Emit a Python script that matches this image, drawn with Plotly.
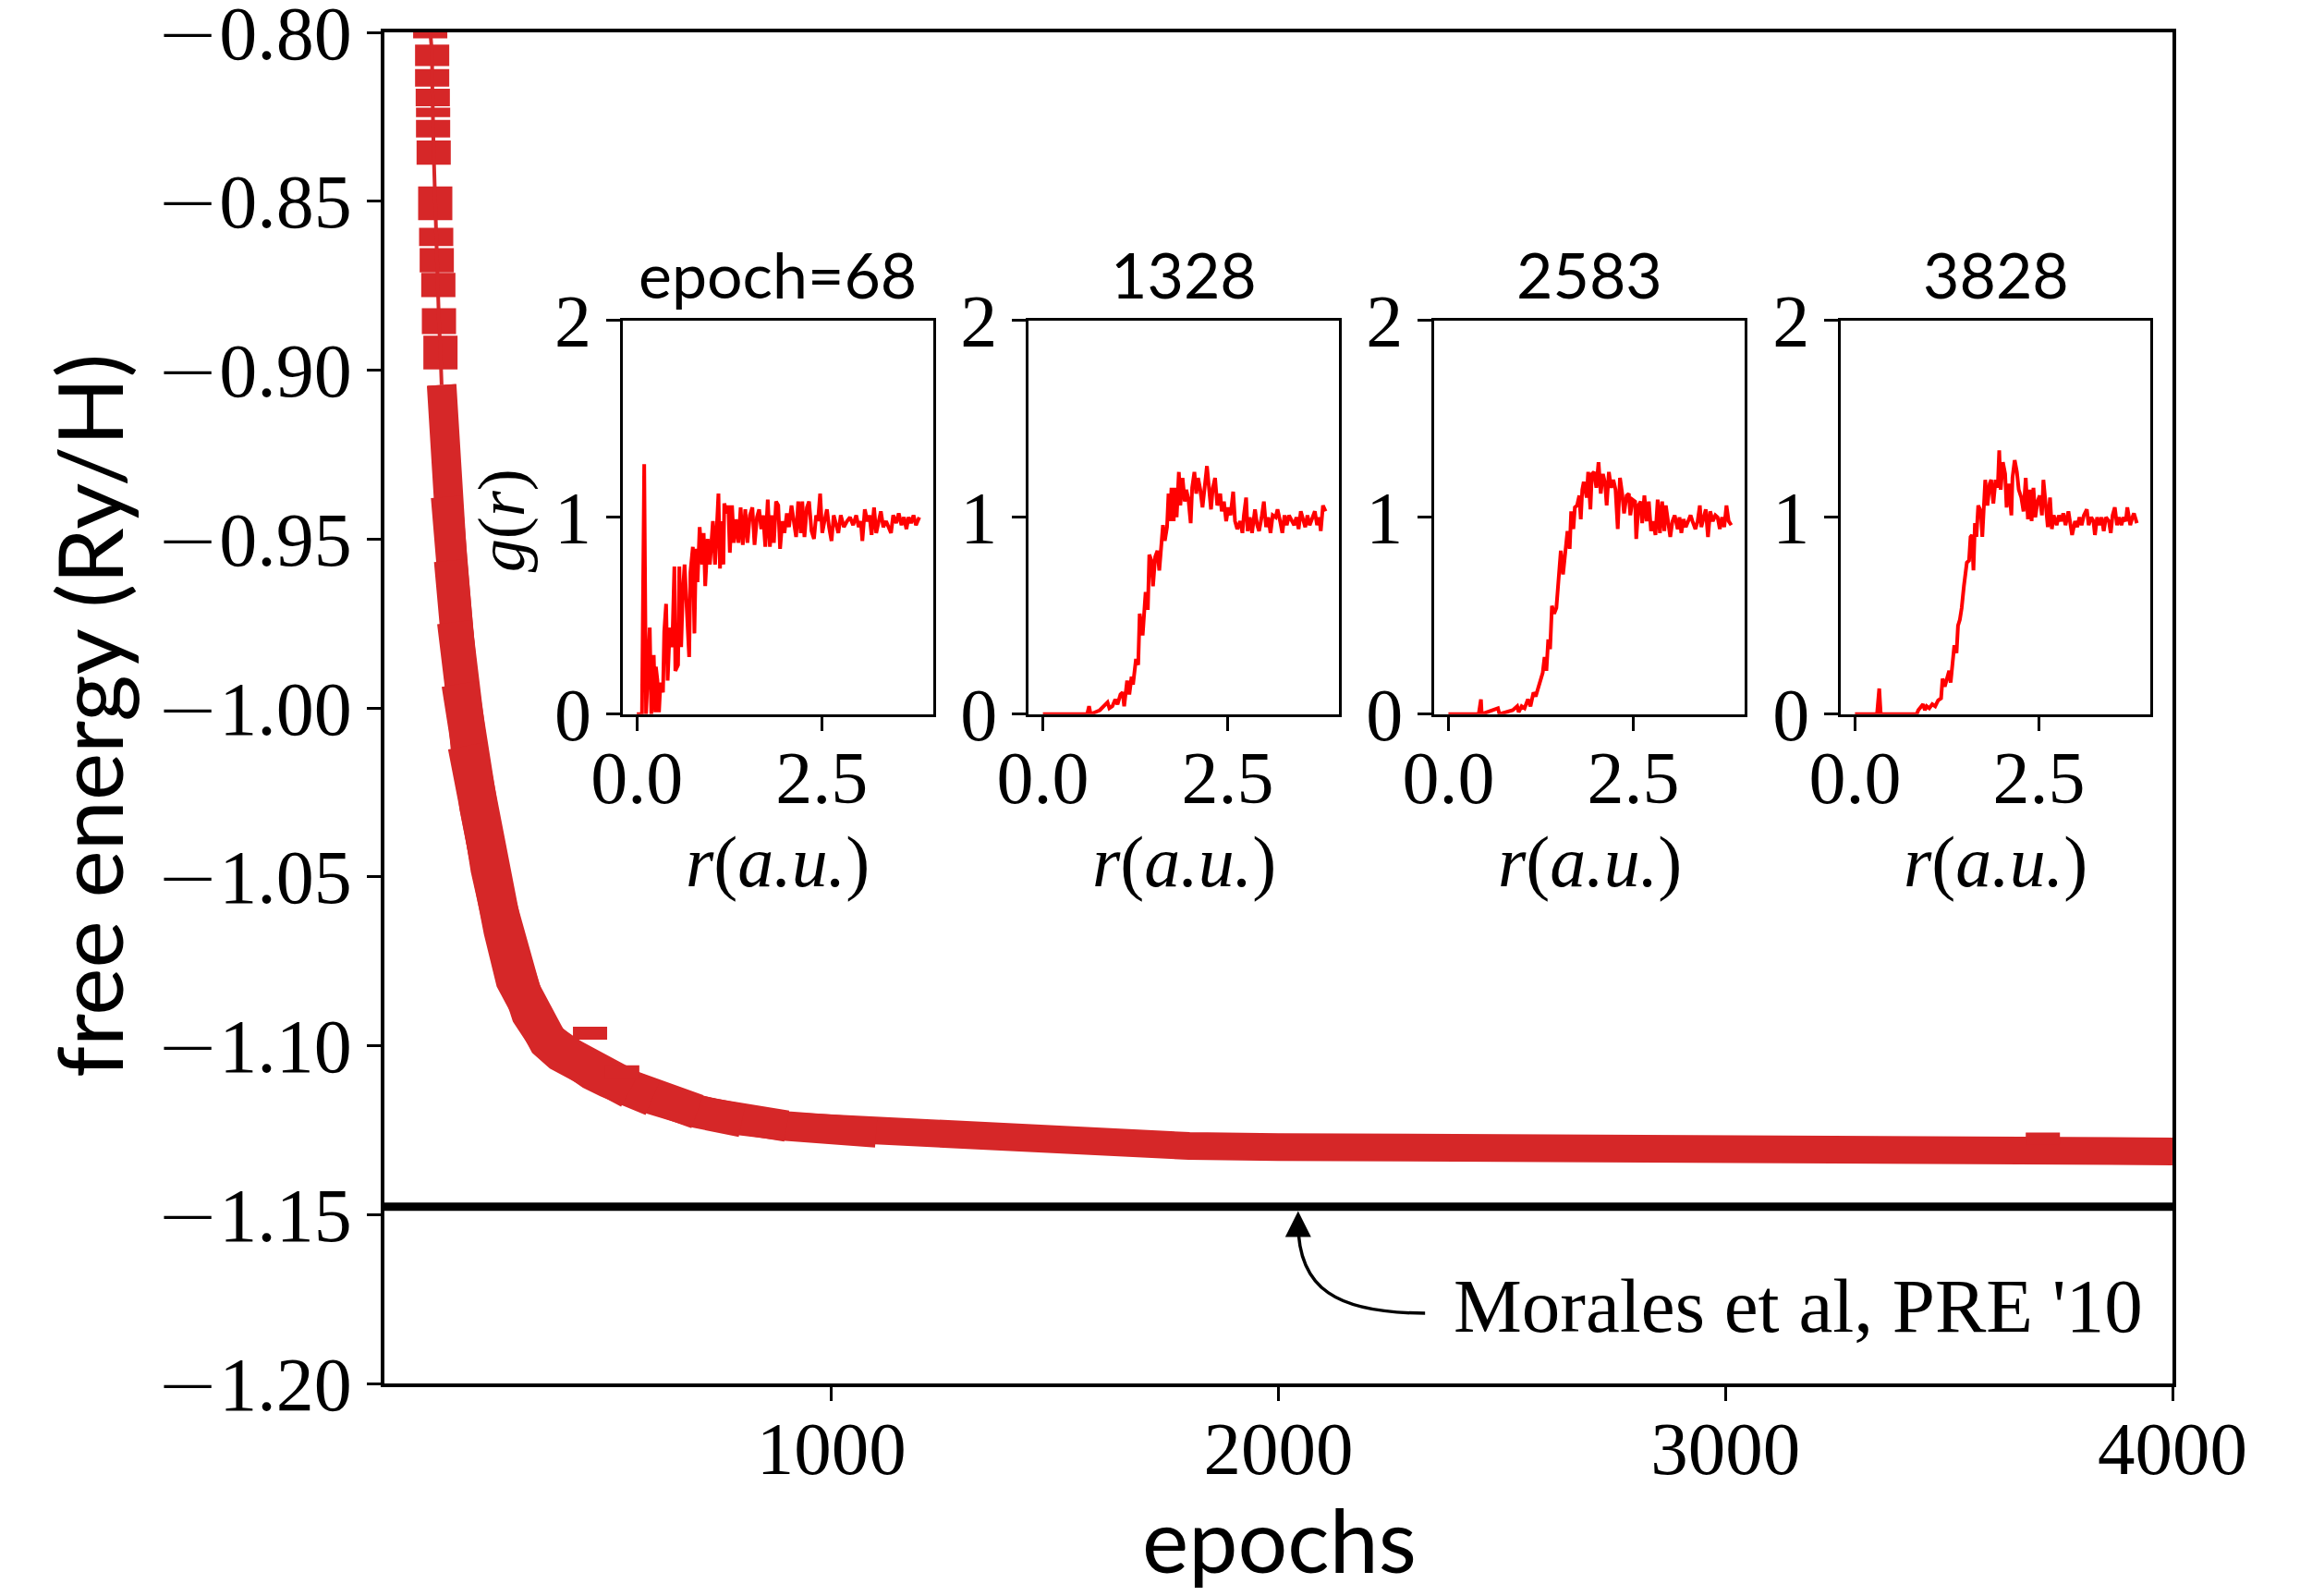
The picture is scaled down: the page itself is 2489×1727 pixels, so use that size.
import plotly.graph_objects as go

# ---------------- main curve data ----------------
# early epochs: individual points drawn with wide error bars (the "blocks")
top_epoch = [102.5, 106.8, 106.8, 108.2, 108.9, 108.9, 110.2, 113.7, 115.8, 117.1, 120.6, 122.0, 125.4, 128.0]
top_energy = [-0.7995, -0.8068, -0.8135, -0.8193, -0.8237, -0.8285, -0.8356, -0.8506, -0.8606,
              -0.8675, -0.8748, -0.8855, -0.8948, -0.9044]
top_err = [0.0023, 0.0032, 0.0026, 0.0026, 0.0014, 0.0026, 0.0036, 0.0050, 0.0027,
           0.0036, 0.0036, 0.0038, 0.0050, 0.0]

# dense part of the training curve (thick band)
band_epoch = [128, 139, 148, 157, 169, 185, 207, 234, 265, 292, 325, 365, 395, 430, 465, 500, 550,
              600, 700, 800, 900, 1000, 1100, 1200, 1300, 1400, 1500, 1600, 1800, 2000, 2200, 2400,
              2600, 2800, 3000, 3200, 3400, 3600, 3800, 4000]
band_energy = [-0.9044, -0.9375, -0.9564, -0.9746, -0.9929, -1.0112, -1.0294, -1.0476, -1.0658,
               -1.0804, -1.0905, -1.0985, -1.1020, -1.1050, -1.1077, -1.1100, -1.1130, -1.1155,
               -1.1195, -1.1222, -1.1238, -1.1245, -1.1258, -1.1268, -1.1278, -1.1285, -1.1290,
               -1.1293, -1.1297, -1.1300, -1.1302, -1.1305, -1.1307, -1.1308, -1.1310, -1.1310,
               -1.1312, -1.1312, -1.1313, -1.1313]
# the band (error bars) is wider around the knee: overlapping layers (start idx, end idx, px)
band_layers = [(0, 40, 30), (0, 23, 32), (1, 21, 34), (2, 20, 36), (3, 19, 38), (4, 18, 40),
               (5, 17, 42)]

# isolated outlier points
out_epoch = [460, 532, 3710]
out_energy = [-1.0963, -1.1078, -1.1275]
out_err = [0.0019, 0.0020, 0.0018]

ref_energy = -1.1477   # Morales et al, PRE '10

energy_ticks = [-1.20, -1.15, -1.10, -1.05, -1.00, -0.95, -0.90, -0.85, -0.80]
epoch_ticks = [1000, 2000, 3000, 4000]

# ---------------- inset g(r) data ----------------
inset_titles = ["epoch=68", "1328", "2583", "3828"]

r1 = [0.0, 0.07, 0.10, 0.125, 0.175, 0.196, 0.229, 0.25, 0.258, 0.279, 0.30, 0.32, 0.354, 0.371,
      0.396, 0.417, 0.446, 0.479, 0.508, 0.521, 0.558, 0.575, 0.60, 0.621, 0.646, 0.675, 0.708,
      0.725, 0.758, 0.779, 0.80, 0.821, 0.85, 0.883, 0.904, 0.925, 0.958, 0.988, 1.029, 1.058,
      1.083, 1.104, 1.125, 1.15, 1.171, 1.183, 1.217, 1.2375, 1.258, 1.2875, 1.3125, 1.342, 1.375,
      1.404, 1.433, 1.467, 1.496, 1.529, 1.5625, 1.592, 1.625, 1.654, 1.683, 1.708, 1.7375, 1.771,
      1.80, 1.829, 1.854, 1.883, 1.9125, 1.9375, 1.967, 1.996, 2.029, 2.058, 2.092, 2.125, 2.154,
      2.183, 2.217, 2.2375, 2.267, 2.30, 2.329, 2.3625, 2.396, 2.425, 2.45, 2.479, 2.508, 2.5375,
      2.571, 2.60, 2.633, 2.6625, 2.696, 2.725, 2.758, 2.80, 2.842, 2.883, 2.925, 2.967, 3.0, 3.029,
      3.05, 3.083, 3.117, 3.146, 3.175, 3.208, 3.2375, 3.271, 3.30, 3.333, 3.371, 3.404, 3.4375,
      3.467, 3.508, 3.542, 3.579, 3.6125, 3.646, 3.675, 3.708, 3.742, 3.775, 3.82]
g1 = [0, 0, 1.27, 0, 0.44, 0, 0.30, 0.01, 0.24, 0.17, 0.01, 0.16, 0.11, 0.42, 0.56, 0.17, 0.44,
      0.34, 0.75, 0.22, 0.25, 0.75, 0.34, 0.61, 0.76, 0.57, 0.29, 0.72, 0.85, 0.41, 0.84, 0.67,
      0.95, 0.76, 0.92, 0.65, 0.89, 0.76, 0.98, 0.76, 1.00, 1.12, 0.74, 0.98, 0.76, 1.07, 1.02,
      1.06, 0.82, 1.06, 0.87, 0.99, 0.87, 1.05, 0.86, 1.04, 0.87, 1.01, 1.05, 0.86, 1.00, 1.04,
      0.94, 1.01, 0.85, 1.09, 0.85, 1.01, 0.87, 1.08, 1.06, 0.84, 0.98, 0.92, 1.02, 0.95, 1.06,
      0.98, 0.90, 1.08, 0.92, 1.08, 0.90, 1.05, 1.08, 0.93, 0.89, 1.01, 0.98, 1.12, 0.92, 0.98,
      1.04, 0.95, 0.88, 1.01, 0.97, 0.92, 1.01, 0.95, 0.98, 1.00, 0.96, 1.01, 0.95, 0.98, 0.88,
      1.04, 0.98, 1.01, 0.91, 1.05, 0.92, 0.98, 1.03, 0.95, 0.98, 0.95, 0.92, 1.01, 0.97, 1.02,
      0.96, 1.00, 0.94, 1.00, 0.97, 1.01, 0.96, 1.00]

r2 = [0.0, 0.60, 0.625, 0.646, 0.77, 0.83, 0.875, 0.90, 0.94, 0.98, 1.01, 1.05, 1.08, 1.10, 1.14,
      1.17, 1.20, 1.22, 1.24, 1.26, 1.29, 1.31, 1.35, 1.37, 1.39, 1.42, 1.44, 1.47, 1.49, 1.52,
      1.55, 1.575, 1.60, 1.625, 1.65, 1.68, 1.70, 1.72, 1.74, 1.77, 1.79, 1.81, 1.84, 1.86, 1.89,
      1.92, 1.94, 1.97, 2.00, 2.02, 2.05, 2.075, 2.10, 2.13, 2.16, 2.19, 2.22, 2.25, 2.275, 2.30,
      2.33, 2.36, 2.40, 2.42, 2.45, 2.48, 2.51, 2.54, 2.575, 2.60, 2.63, 2.67, 2.70, 2.72, 2.75,
      2.77, 2.80, 2.83, 2.87, 2.90, 2.925, 2.96, 2.99, 3.02, 3.05, 3.08, 3.11, 3.15, 3.175, 3.21,
      3.24, 3.27, 3.30, 3.33, 3.37, 3.40, 3.43, 3.46, 3.49, 3.52, 3.55, 3.58, 3.61, 3.65, 3.68,
      3.71, 3.74, 3.76, 3.79, 3.825]
g2 = [0, 0, 0.04, 0, 0.02, 0.04, 0.06, 0.03, 0.04, 0.075, 0.05, 0.10, 0.11, 0.04, 0.17, 0.10,
      0.19, 0.15, 0.21, 0.28, 0.25, 0.51, 0.40, 0.51, 0.62, 0.53, 0.81, 0.78, 0.65, 0.80, 0.83,
      0.73, 0.87, 0.96, 0.88, 0.95, 1.12, 0.98, 1.15, 0.98, 1.15, 1.00, 1.23, 1.06, 1.20, 1.08,
      1.14, 1.09, 0.97, 1.15, 1.23, 1.12, 1.20, 1.14, 1.05, 1.15, 1.26, 1.14, 1.04, 1.15, 1.20,
      1.06, 1.12, 1.03, 1.08, 0.98, 1.05, 1.01, 1.13, 0.98, 0.94, 0.98, 0.92, 1.01, 1.10, 0.93,
      1.00, 0.92, 1.04, 0.96, 0.93, 1.00, 1.08, 0.95, 1.00, 0.92, 1.01, 1.00, 1.04, 0.98, 0.92,
      1.01, 0.96, 1.01, 0.98, 0.96, 1.00, 0.94, 1.03, 0.98, 0.95, 1.01, 0.96, 1.00, 1.03, 0.96,
      1.00, 0.93, 1.06, 1.03]

r3 = [0.0, 0.41, 0.44, 0.45, 0.67, 0.69, 0.87, 0.93, 0.95, 0.99, 1.03, 1.075, 1.11, 1.15, 1.18,
      1.21, 1.24, 1.275, 1.30, 1.325, 1.35, 1.375, 1.40, 1.43, 1.46, 1.49, 1.52, 1.55, 1.58, 1.61,
      1.64, 1.66, 1.69, 1.71, 1.74, 1.77, 1.79, 1.81, 1.83, 1.87, 1.89, 1.92, 1.94, 1.97, 2.00,
      2.03, 2.06, 2.09, 2.12, 2.14, 2.17, 2.20, 2.23, 2.26, 2.29, 2.32, 2.35, 2.375, 2.41, 2.44,
      2.46, 2.49, 2.525, 2.54, 2.57, 2.60, 2.62, 2.65, 2.68, 2.71, 2.74, 2.77, 2.80, 2.83, 2.86,
      2.89, 2.92, 2.94, 2.97, 3.00, 3.03, 3.06, 3.10, 3.125, 3.15, 3.18, 3.21, 3.24, 3.275, 3.30,
      3.34, 3.37, 3.40, 3.42, 3.45, 3.48, 3.51, 3.54, 3.575, 3.61, 3.64, 3.67, 3.70, 3.73, 3.76,
      3.79, 3.825]
g3 = [0, 0, 0.075, 0, 0.03, 0, 0.02, 0.04, 0.01, 0.04, 0.03, 0.075, 0.04, 0.11, 0.09, 0.13, 0.17,
      0.21, 0.29, 0.22, 0.38, 0.33, 0.55, 0.51, 0.54, 0.70, 0.83, 0.71, 0.83, 0.93, 0.84, 1.03,
      0.94, 1.05, 1.06, 1.11, 0.99, 1.14, 1.18, 1.10, 1.23, 1.04, 1.22, 1.23, 1.15, 1.28, 1.12,
      1.22, 1.17, 1.06, 1.23, 1.15, 1.19, 1.14, 0.94, 1.20, 1.12, 1.02, 1.11, 1.12, 1.01, 1.09,
      1.08, 0.89, 1.06, 1.08, 0.97, 1.11, 0.98, 1.08, 0.93, 0.98, 0.91, 1.09, 0.92, 1.08, 0.93,
      1.06, 0.98, 0.90, 0.98, 1.01, 0.94, 1.00, 0.92, 0.99, 0.95, 0.98, 1.01, 0.98, 0.94, 0.98,
      1.06, 0.95, 1.00, 1.04, 0.90, 1.03, 0.98, 1.01, 1.00, 0.94, 1.00, 0.95, 1.06, 0.98, 0.96]

r4 = [0.0, 0.30, 0.33, 0.35, 0.84, 0.86, 0.925, 0.95, 0.975, 1.01, 1.05, 1.09, 1.13, 1.17, 1.19,
      1.22, 1.25, 1.28, 1.30, 1.33, 1.35, 1.38, 1.40, 1.425, 1.45, 1.48, 1.50, 1.52, 1.55, 1.57,
      1.59, 1.61, 1.63, 1.65, 1.675, 1.71, 1.73, 1.75, 1.77, 1.80, 1.83, 1.85, 1.88, 1.91, 1.94,
      1.96, 1.98, 2.01, 2.04, 2.06, 2.09, 2.125, 2.14, 2.17, 2.20, 2.225, 2.26, 2.29, 2.32, 2.35,
      2.375, 2.40, 2.425, 2.45, 2.48, 2.51, 2.54, 2.56, 2.59, 2.62, 2.65, 2.675, 2.70, 2.74, 2.77,
      2.80, 2.83, 2.86, 2.90, 2.925, 2.95, 2.99, 3.02, 3.05, 3.08, 3.11, 3.15, 3.175, 3.21, 3.24,
      3.26, 3.29, 3.32, 3.35, 3.38, 3.41, 3.45, 3.475, 3.50, 3.53, 3.56, 3.59, 3.62, 3.65, 3.68,
      3.70, 3.74, 3.77, 3.79, 3.83]
g4 = [0, 0, 0.13, 0, 0, 0.02, 0.05, 0.02, 0.04, 0.03, 0.05, 0.04, 0.07, 0.08, 0.18, 0.14, 0.18,
      0.22, 0.16, 0.26, 0.35, 0.31, 0.45, 0.48, 0.54, 0.65, 0.70, 0.77, 0.78, 0.90, 0.91, 0.73,
      0.97, 0.90, 1.06, 1.03, 0.90, 1.11, 1.19, 1.06, 1.17, 1.19, 1.07, 1.19, 1.15, 1.34, 1.14,
      1.28, 1.22, 1.05, 1.17, 1.01, 1.20, 1.29, 1.23, 1.14, 1.10, 1.03, 1.20, 0.99, 1.14, 0.98,
      1.15, 1.00, 1.08, 1.11, 1.01, 1.19, 1.04, 0.95, 1.10, 0.94, 1.01, 0.96, 1.01, 0.98, 1.02,
      0.96, 1.03, 0.98, 0.91, 0.98, 0.95, 1.00, 0.96, 1.01, 1.04, 0.96, 1.00, 0.98, 0.91, 1.00,
      0.96, 1.00, 0.93, 1.00, 0.98, 0.92, 1.01, 1.05, 0.96, 1.00, 0.96, 1.00, 0.98, 1.05, 0.96,
      1.00, 1.02, 0.97]

inset_r = [r1, r2, r3, r4]
inset_g = [g1, g2, g3, g4]

# ---------------- styling / layout ----------------
# page body has an 8px margin, so the figure is made 8px smaller to fit the window
W, H = 2481, 1719
ML, MR, MT, MB = 408, 138, 27, 230
RED_MAIN = "#d62728"
SERIF = "Liberation Serif"
SANS = "Lato"

inset_xdom = [[0.1333, 0.3070], [0.3604, 0.5340], [0.5872, 0.7609], [0.8146, 0.9875]]
inset_ydom = [0.4954, 0.7868]

fig = go.Figure()

# thick band (thickness varies along the curve)
for i0, i1, wpx in band_layers:
    fig.add_trace(go.Scatter(x=band_epoch[i0:i1], y=band_energy[i0:i1], mode="lines",
                             line=dict(color=RED_MAIN, width=wpx), hoverinfo="skip"))
# early points with error bars
fig.add_trace(go.Scatter(x=top_epoch, y=top_energy, mode="lines",
                         line=dict(color=RED_MAIN, width=4),
                         error_y=dict(type="data", array=top_err, visible=True,
                                      color=RED_MAIN, thickness=37, width=0)))
# outliers
fig.add_trace(go.Scatter(x=out_epoch, y=out_energy, mode="markers",
                         marker=dict(size=1, color=RED_MAIN, opacity=0),
                         error_y=dict(type="data", array=out_err, visible=True,
                                      color=RED_MAIN, thickness=37, width=0)))

fig.add_hline(y=ref_energy, line=dict(color="black", width=9))

axis_common = dict(showline=True, mirror=True, linecolor="black", ticks="outside",
                   tickcolor="black", showgrid=False, zeroline=False, automargin=False,
                   ticklabeloverflow="allow")

MINUS = '<span style="font-family:DejaVu Sans;font-weight:200">\u2212</span>'
energy_text = [(MINUS if v < 0 else "") + f"{abs(v):.2f}" for v in energy_ticks]

fig.update_layout(
    width=W, height=H,
    margin=dict(l=ML, r=MR, t=MT, b=MB, pad=0, autoexpand=False),
    paper_bgcolor="white", plot_bgcolor="white",
    showlegend=False,
    xaxis=dict(domain=[0, 1], range=[0, 4000], tickvals=epoch_ticks,
               ticklen=15, tickwidth=3, linewidth=3.5, ticklabelstandoff=-18,
               tickfont=dict(family=SERIF, size=81, color="black"), **axis_common),
    yaxis=dict(domain=[0, 1], range=[-1.2, -0.8], tickvals=energy_ticks, ticktext=energy_text,
               ticklen=15, tickwidth=3, linewidth=3.5,
               tickfont=dict(family=SERIF, size=82, color="black"), **axis_common),
)

annotations = []
for i in range(4):
    n = i + 2
    fig.add_trace(go.Scatter(x=inset_r[i], y=inset_g[i], mode="lines",
                             line=dict(color="#ff0000", width=4),
                             xaxis=f"x{n}", yaxis=f"y{n}", hoverinfo="skip"))
    fig.layout[f"xaxis{n}"] = dict(domain=inset_xdom[i], anchor=f"y{n}", range=[-0.19, 4.01],
                                   tickvals=[0, 2.5], ticktext=["0.0", "2.5"],
                                   ticklen=15, tickwidth=3, linewidth=3, ticklabelstandoff=-18,
                                   tickfont=dict(family=SERIF, size=80, color="black"),
                                   **axis_common)
    fig.layout[f"yaxis{n}"] = dict(domain=inset_ydom, anchor=f"x{n}", range=[0, 2],
                                   tickvals=[0, 1, 2], ticktext=["0", "1", "2"],
                                   ticklen=15, tickwidth=3, linewidth=3,
                                   tickfont=dict(family=SERIF, size=80, color="black"),
                                   **axis_common)
    xc = (inset_xdom[i][0] + inset_xdom[i][1]) / 2
    annotations.append(dict(text=inset_titles[i], xref="paper", yref="paper", x=xc, y=0.821,
                            xanchor="center", yanchor="middle", showarrow=False,
                            font=dict(family=SANS, size=68, color="black")))
    annotations.append(dict(text="<i>r</i>(<i>a.u.</i>)", xref="paper", yref="paper",
                            x=xc, y=0.386, xanchor="center", yanchor="middle", showarrow=False,
                            font=dict(family=SERIF, size=78, color="black")))

annotations.append(dict(text="<i>g</i>(<i>r</i>)", xref="paper", yref="paper", x=0.0655, y=0.6385,
                        textangle=-90, xanchor="center", yanchor="middle", showarrow=False,
                        font=dict(family=SERIF, size=72, color="black")))
annotations.append(dict(text="epochs", xref="paper", yref="paper", x=0.5003, y=-0.1150,
                        xanchor="center", yanchor="middle", showarrow=False,
                        font=dict(family=SANS, size=95, color="black")))
annotations.append(dict(text="free energy (Ry/H)", xref="paper", yref="paper", x=-0.1659, y=0.4945,
                        textangle=-90, xanchor="center", yanchor="middle", showarrow=False,
                        font=dict(family=SANS, size=97, color="black")))
annotations.append(dict(text="Morales et al, PRE '10", xref="x", yref="y", x=2388, y=-1.177,
                        xanchor="left", yanchor="middle", showarrow=False,
                        font=dict(family=SERIF, size=83, color="black")))
# arrow head pointing at the reference line
annotations.append(dict(text="", xref="x", yref="y", x=2044, y=-1.1490,
                        axref="x", ayref="y", ax=2044, ay=-1.1545,
                        showarrow=True, arrowhead=2, arrowsize=1.6, arrowwidth=3.5,
                        arrowcolor="black", standoff=0))
fig.update_layout(annotations=annotations)

# curved arrow body
fig.add_shape(type="path", xref="x", yref="y",
              path="M 2328,-1.1792 C 2130,-1.1792 2044,-1.172 2044,-1.1525",
              line=dict(color="black", width=3.5))

fig.write_html("out.html")
